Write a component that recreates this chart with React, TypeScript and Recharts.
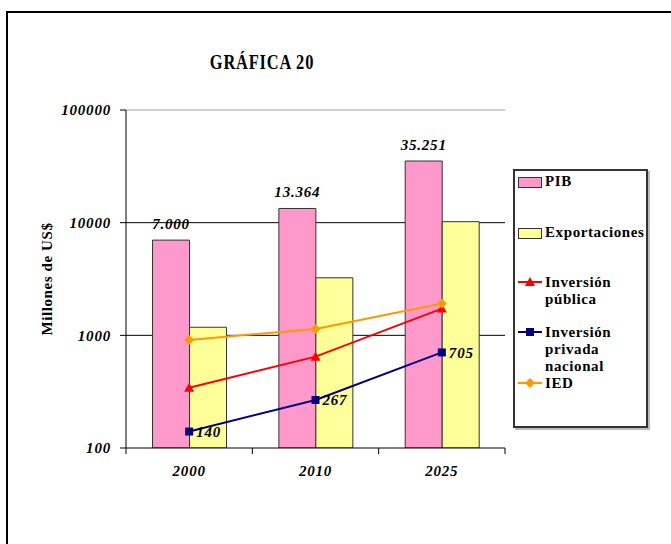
import React from "react";
import {
  ComposedChart,
  Bar,
  Line,
  XAxis,
  YAxis,
  CartesianGrid,
  ReferenceLine,
  LabelList,
} from "recharts";

const years = ["2000", "2010", "2025"];
const pib = [7000, 13364, 35251];
const pibLabels = ["7.000", "13.364", "35.251"];
const exportaciones = [1180, 3240, 10200];
const inversionPublica = [343, 647, 1727];
const inversionPrivada = [140, 267, 705];
const privadaLabels = ["140", "267", "705"];
const ied = [910, 1140, 1913];
const yTicks = [100, 1000, 10000, 100000];

const data = years.map((y, i) => ({
  year: y,
  pib: [100, pib[i]],
  pibLabel: pibLabels[i],
  exp: [100, exportaciones[i]],
  pub: inversionPublica[i],
  priv: inversionPrivada[i],
  privLabel: privadaLabels[i],
  ied: ied[i],
}));

const FONT = "'Liberation Serif', 'Times New Roman', serif";
const PINK = "#FF99CC";
const YELLOW = "#FFFF99";
const RED = "#FF0000";
const NAVY = "#000080";
const ORANGE = "#FF9900";

const Triangle = (props: any) => {
  const { cx, cy } = props;
  if (cx == null || cy == null) return null;
  return <path d={`M${cx},${cy - 5}L${cx + 5},${cy + 4}L${cx - 5},${cy + 4}Z`} fill={RED} />;
};
const Square = (props: any) => {
  const { cx, cy } = props;
  if (cx == null || cy == null) return null;
  return <rect x={cx - 4} y={cy - 4} width={8} height={8} fill={NAVY} />;
};
const Diamond = (props: any) => {
  const { cx, cy } = props;
  if (cx == null || cy == null) return null;
  return <path d={`M${cx},${cy - 5}L${cx + 5},${cy}L${cx},${cy + 5}L${cx - 5},${cy}Z`} fill={ORANGE} />;
};

const XTick = (props: any) => {
  const { x, y, payload, index, visibleTicksCount } = props;
  const half = payload && payload.offset ? payload.offset : 0;
  const isLast = index === (visibleTicksCount || years.length) - 1;
  return (
    <g>
      <line x1={x - half} y1={y} x2={x - half} y2={y + 6} stroke="#000" strokeWidth={1} />
      {isLast && <line x1={x + half} y1={y} x2={x + half} y2={y + 6} stroke="#000" strokeWidth={1} />}
      <text
        x={x}
        y={y + 28}
        textAnchor="middle"
        fontFamily={FONT}
        fontWeight="bold"
        fontStyle="italic"
        fontSize={15}
        letterSpacing={0.8}
        fill="#000"
      >
        {payload.value}
      </text>
    </g>
  );
};

const labelStyle = {
  fontFamily: FONT,
  fontWeight: "bold" as const,
  fontStyle: "italic" as const,
  fontSize: 15,
  letterSpacing: 0.8,
  fill: "#000",
};

const legendText: React.CSSProperties = {
  position: "absolute",
  left: 30,
  fontFamily: FONT,
  fontWeight: "bold",
  fontSize: 15,
  letterSpacing: 0.6,
  lineHeight: "17px",
  color: "#000",
  whiteSpace: "nowrap",
};

const LineSym = ({ color, marker, top }: { color: string; marker: string; top: number }) => (
  <svg style={{ position: "absolute", left: 2, top: top }} width={26} height={12}>
    <line x1={1} y1={6} x2={25} y2={6} stroke={color} strokeWidth={2} />
    {marker === "tri" && <path d="M13,1L18,10L8,10Z" fill={color} />}
    {marker === "sq" && <rect x={9} y={2} width={8} height={8} fill={color} />}
    {marker === "dia" && <path d="M13,1L18,6L13,11L8,6Z" fill={color} />}
  </svg>
);

export default function App() {
  return (
    <div style={{ position: "absolute", left: 0, top: 0, width: 671, height: 544, overflow: "hidden", background: "#fff" }}>
      <div
        style={{
          position: "absolute",
          left: 6,
          top: 11,
          width: 800,
          height: 800,
          border: "2px solid #000",
        }}
      />
      <div
        style={{
          position: "absolute",
          left: 162,
          top: 50,
          width: 200,
          textAlign: "center",
          fontFamily: FONT,
          fontWeight: "bold",
          fontSize: 20,
          letterSpacing: 1,
          lineHeight: "24px",
          transform: "scaleX(0.82)",
          transformOrigin: "50% 50%",
        }}
      >
        GRÁFICA 20
      </div>
      <div style={{ position: "absolute", left: 0, top: 0 }}>
        <ComposedChart
          width={671}
          height={544}
          data={data}
          margin={{ top: 110, right: 166, bottom: 66, left: 0 }}
          barCategoryGap="21%"
          barGap={0}
        >
          <CartesianGrid
            horizontal={true}
            vertical={false}
            horizontalValues={[1000, 10000]}
            stroke="#000"
            strokeWidth={1}
          />
          <XAxis
            dataKey="year"
            interval={0}
            tick={<XTick />}
            tickLine={false}
            tickSize={0}
            tickMargin={0}
            height={30}
            axisLine={{ stroke: "#000" }}
          />
          <YAxis
            scale="log"
            type="number"
            domain={[100, 100000]}
            ticks={yTicks}
            interval={0}
            allowDataOverflow
            width={126}
            tickSize={6}
            tickMargin={9}
            axisLine={{ stroke: "#000" }}
            tickLine={{ stroke: "#000" }}
            tick={labelStyle}
            label={{
              content: (p: any) => {
                const vb = p.viewBox || {};
                const cx = (vb.x || 0) + 47;
                const cy = (vb.y || 0) + (vb.height || 0) / 2;
                return (
                  <text
                    x={cx}
                    y={cy}
                    transform={`rotate(-90 ${cx} ${cy})`}
                    textAnchor="middle"
                    dominantBaseline="central"
                    fontFamily={FONT}
                    fontWeight="bold"
                    fontSize={15}
                    letterSpacing={0.6}
                    fill="#000"
                  >
                    Millones de US$
                  </text>
                );
              },
            }}
          />
          <YAxis
            yAxisId="right"
            orientation="right"
            type="number"
            domain={[0, 1]}
            width={0}
            tick={false}
            tickLine={false}
            axisLine={{ stroke: "#a0a0a0" }}
          />
          <ReferenceLine y={100000} stroke="#a0a0a0" strokeWidth={1} />
          <Bar dataKey="pib" fill={PINK} stroke="#333" strokeWidth={1} isAnimationActive={false}>
            <LabelList dataKey="pibLabel" position="top" offset={11} style={labelStyle} />
          </Bar>
          <Bar dataKey="exp" fill={YELLOW} stroke="#333" strokeWidth={1} isAnimationActive={false} />
          <Line
            dataKey="pub"
            stroke={RED}
            strokeWidth={2}
            dot={<Triangle />}
            activeDot={false}
            isAnimationActive={false}
          />
          <Line
            dataKey="priv"
            stroke={NAVY}
            strokeWidth={2}
            dot={<Square />}
            activeDot={false}
            isAnimationActive={false}
          >
            <LabelList dataKey="privLabel" position="right" offset={7} style={labelStyle} />
          </Line>
          <Line
            dataKey="ied"
            stroke={ORANGE}
            strokeWidth={2}
            dot={<Diamond />}
            activeDot={false}
            isAnimationActive={false}
          />
        </ComposedChart>
      </div>
      <div
        style={{
          position: "absolute",
          left: 513,
          top: 169,
          width: 131,
          height: 255,
          border: "2px solid #333",
          boxShadow: "2px 2px 0 #bbb",
          background: "#fff",
        }}
      >
        <div style={{ position: "absolute", left: 3, top: 6, width: 22, height: 9, background: PINK, border: "1px solid #333" }} />
        <div style={{ ...legendText, top: 2 }}>PIB</div>
        <div style={{ position: "absolute", left: 3, top: 57, width: 22, height: 9, background: YELLOW, border: "1px solid #333" }} />
        <div style={{ ...legendText, top: 53 }}>Exportaciones</div>
        <LineSym color={RED} marker="tri" top={105} />
        <div style={{ ...legendText, top: 103 }}>
          Inversión
          <br />
          pública
        </div>
        <LineSym color={NAVY} marker="sq" top={155} />
        <div style={{ ...legendText, top: 153 }}>
          Inversión
          <br />
          privada
          <br />
          nacional
        </div>
        <LineSym color={ORANGE} marker="dia" top={206} />
        <div style={{ ...legendText, top: 204 }}>IED</div>
      </div>
    </div>
  );
}
